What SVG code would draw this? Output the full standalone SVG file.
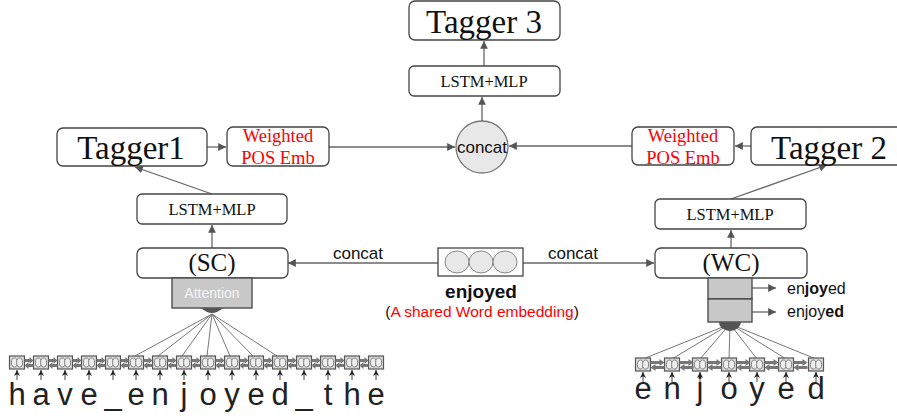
<svg xmlns="http://www.w3.org/2000/svg" xmlns:xlink="http://www.w3.org/1999/xlink" width="897" height="419" viewBox="0 0 897 419">
<style>
.box{fill:#fff;stroke:#444;stroke-width:1.3}
.ser{font-family:"Liberation Serif","Times New Roman",serif;fill:#111}
.sans{font-family:"Liberation Sans",Arial,sans-serif;fill:#111}
.red{fill:#f00}
.con{stroke:#666;stroke-width:1.3;fill:none}
.fan{stroke:#777;stroke-width:1;fill:none}
.gray{fill:#c8c8c8;stroke:#444;stroke-width:1.3}
.lt{fill:#222;font-family:"Liberation Sans",Arial,sans-serif;font-size:31px;text-anchor:middle}
.cellb{fill:#ddd;stroke:#555;stroke-width:1.2}
.cello{fill:#eee;stroke:#666;stroke-width:0.8}
.barr{fill:#777}
.up{stroke:#444;stroke-width:1;fill:none}
</style>
<defs>
<marker id="ah" viewBox="0 0 10 10" refX="10" refY="5" markerWidth="6" markerHeight="6" orient="auto"><path d="M0,0 L10,5 L0,10 z" fill="#555"/></marker>
<marker id="ahs" viewBox="0 0 10 10" refX="10" refY="5" markerWidth="6" markerHeight="7" orient="auto"><path d="M0,0 L10,5 L0,10 L3,5 z" fill="#222"/></marker>
<g id="cell">
<rect class="cellb" x="-7.5" y="0" width="15" height="13"/>
<ellipse class="cello" cx="-2.6" cy="6.5" rx="3" ry="4.5"/>
<ellipse class="cello" cx="2.6" cy="6.5" rx="3" ry="4.5"/>
</g>
<g id="bi">
<path class="barr" d="M0,2 L5,2 L5,0 L9,3.5 L5,7 L5,5 L0,5 z"/>
<path class="barr" d="M9,7 L4,7 L4,5 L0,8.5 L4,12 L4,10 L9,10 z"/>
</g>
<g id="biw">
<path class="barr" d="M0,2 L9,2 L9,0 L14,3.5 L9,7 L9,5 L0,5 z"/>
<path class="barr" d="M14,7 L5,7 L5,5 L0,8.5 L5,12 L5,10 L14,10 z"/>
</g>
</defs>

<g id="connectors">
<line class="con" x1="484" y1="66" x2="484" y2="41" marker-end="url(#ah)"/>
<line class="con" x1="482" y1="121" x2="482" y2="97" marker-end="url(#ah)"/>
<line class="con" x1="207" y1="147" x2="226" y2="147" marker-end="url(#ah)"/>
<line class="con" x1="329" y1="147" x2="455" y2="147" marker-end="url(#ah)"/>
<line class="con" x1="751" y1="146" x2="735" y2="146" marker-end="url(#ah)"/>
<line class="con" x1="632" y1="146" x2="509" y2="146" marker-end="url(#ah)"/>
<line class="con" x1="212" y1="194" x2="135" y2="167" marker-end="url(#ah)"/>
<line class="con" x1="731" y1="199" x2="827" y2="165" marker-end="url(#ah)"/>
<line class="con" x1="212" y1="248" x2="212" y2="225" marker-end="url(#ah)"/>
<line class="con" x1="731" y1="248" x2="731" y2="230" marker-end="url(#ah)"/>
<line class="con" x1="438" y1="263" x2="288" y2="263" marker-end="url(#ah)"/>
<line class="con" x1="523" y1="263" x2="654" y2="263" marker-end="url(#ah)"/>
<text class="sans" x="358" y="259" font-size="17" text-anchor="middle">concat</text>
<text class="sans" x="573" y="259" font-size="17" text-anchor="middle">concat</text>
<line class="con" x1="752" y1="288" x2="776" y2="288" marker-end="url(#ah)"/>
<line class="con" x1="752" y1="312" x2="776" y2="312" marker-end="url(#ah)"/>
<g class="fan">
<line x1="212" y1="314" x2="135" y2="356"/>
<line x1="212" y1="314" x2="158" y2="356"/>
<line x1="212" y1="314" x2="182" y2="356"/>
<line x1="212" y1="314" x2="207" y2="356"/>
<line x1="212" y1="314" x2="230" y2="356"/>
<line x1="212" y1="314" x2="253" y2="356"/>
<line x1="212" y1="314" x2="277" y2="356"/>
</g>
<g class="fan">
<line x1="730" y1="324" x2="643" y2="359"/>
<line x1="730" y1="324" x2="672" y2="359"/>
<line x1="730" y1="324" x2="700" y2="359"/>
<line x1="730" y1="324" x2="729" y2="359"/>
<line x1="730" y1="324" x2="757" y2="359"/>
<line x1="730" y1="324" x2="786" y2="359"/>
<line x1="730" y1="324" x2="816" y2="359"/>
</g>
</g>

<g id="tagger3">
<rect class="box" x="409" y="1" width="151" height="39" rx="6"/>
<text class="ser" x="484" y="33" font-size="33" text-anchor="middle">Tagger 3</text>
</g>
<g id="lstm3">
<rect class="box" x="409" y="66" width="151" height="30" rx="5"/>
<text class="ser" x="484" y="87" font-size="16.5" text-anchor="middle">LSTM+MLP</text>
</g>
<g id="concat">
<circle cx="482" cy="147" r="26" fill="#e8e8e8" stroke="#777" stroke-width="1.3"/>
<text class="sans" x="482" y="153" font-size="17" text-anchor="middle">concat</text>
</g>
<g id="tagger1">
<rect class="box" x="57" y="128" width="150" height="38" rx="6"/>
<text class="ser" x="131" y="159" font-size="33" text-anchor="middle">Tagger1</text>
</g>
<g id="wpos1">
<rect class="box" x="227" y="127" width="102" height="39" rx="6"/>
<text class="ser red" x="278" y="142" font-size="18.5" text-anchor="middle">Weighted</text>
<text class="ser red" x="278" y="164" font-size="18.5" text-anchor="middle">POS Emb</text>
</g>
<g id="wpos2">
<rect class="box" x="632" y="127" width="102" height="38" rx="6"/>
<text class="ser red" x="683" y="142" font-size="18.5" text-anchor="middle">Weighted</text>
<text class="ser red" x="683" y="164" font-size="18.5" text-anchor="middle">POS Emb</text>
</g>
<g id="tagger2">
<rect class="box" x="751" y="127" width="160" height="38" rx="6"/>
<text class="ser" x="829" y="159" font-size="33" text-anchor="middle">Tagger 2</text>
</g>
<g id="lstm1">
<rect class="box" x="137" y="194" width="150" height="30" rx="5"/>
<text class="ser" x="212" y="215" font-size="16.5" text-anchor="middle">LSTM+MLP</text>
</g>
<g id="lstm2">
<rect class="box" x="655" y="199" width="151" height="30" rx="5"/>
<text class="ser" x="730" y="220" font-size="16.5" text-anchor="middle">LSTM+MLP</text>
</g>
<g id="sc">
<rect class="box" x="137" y="248" width="151" height="30" rx="6"/>
<text class="ser" x="212" y="271" font-size="25" text-anchor="middle">(SC)</text>
</g>
<g id="attention">
<rect class="gray" x="172" y="278" width="80" height="30"/>
<text x="212" y="298" font-size="14" text-anchor="middle" fill="#f4f4f4" font-family="Liberation Sans, Arial, sans-serif">Attention</text>
<path d="M201,308 Q212,318 223,308 z" fill="#555"/>
</g>
<g id="wc">
<rect class="box" x="655" y="248" width="152" height="30" rx="6"/>
<text class="ser" x="731" y="271" font-size="25" text-anchor="middle">(WC)</text>
</g>
<g id="wc-outputs">
<rect class="gray" x="708" y="278" width="44" height="21"/>
<rect class="gray" x="708" y="299" width="44" height="23"/>
<path d="M719,322 A11,9 0 0 0 741,322 z" fill="#555"/>
<text class="sans" x="787" y="294" font-size="16">en<tspan font-weight="bold">joy</tspan>ed</text>
<text class="sans" x="787" y="317" font-size="16">enjoy<tspan font-weight="bold">ed</tspan></text>
</g>
<g id="embedding">
<rect x="438" y="248" width="85" height="28" fill="#fff" stroke="#444" stroke-width="1.3"/>
<ellipse cx="457" cy="262" rx="12" ry="11" fill="#e8e8e8" stroke="#888"/>
<ellipse cx="481" cy="262" rx="12" ry="11" fill="#e8e8e8" stroke="#888"/>
<ellipse cx="505" cy="262" rx="12" ry="11" fill="#e8e8e8" stroke="#888"/>
<text class="sans" x="481" y="298" font-size="19" font-weight="bold" text-anchor="middle">enjoyed</text>
<text class="sans" x="482" y="317" font-size="15.5" text-anchor="middle">(<tspan fill="#f00">A shared Word embedding</tspan>)</text>
</g>

<g id="char-lstm-left">
<use xlink:href="#cell" x="17" y="356"/>
<use xlink:href="#cell" x="41" y="356"/>
<use xlink:href="#cell" x="65" y="356"/>
<use xlink:href="#cell" x="89" y="356"/>
<use xlink:href="#cell" x="113" y="356"/>
<use xlink:href="#cell" x="136" y="356"/>
<use xlink:href="#cell" x="160" y="356"/>
<use xlink:href="#cell" x="184" y="356"/>
<use xlink:href="#cell" x="208" y="356"/>
<use xlink:href="#cell" x="232" y="356"/>
<use xlink:href="#cell" x="256" y="356"/>
<use xlink:href="#cell" x="280" y="356"/>
<use xlink:href="#cell" x="304" y="356"/>
<use xlink:href="#cell" x="328" y="356"/>
<use xlink:href="#cell" x="352" y="356"/>
<use xlink:href="#cell" x="376" y="356"/>
<use xlink:href="#bi" x="24.5" y="357"/>
<use xlink:href="#bi" x="48.5" y="357"/>
<use xlink:href="#bi" x="72.5" y="357"/>
<use xlink:href="#bi" x="96.5" y="357"/>
<use xlink:href="#bi" x="120.5" y="357"/>
<use xlink:href="#bi" x="143.5" y="357"/>
<use xlink:href="#bi" x="167.5" y="357"/>
<use xlink:href="#bi" x="191.5" y="357"/>
<use xlink:href="#bi" x="215.5" y="357"/>
<use xlink:href="#bi" x="239.5" y="357"/>
<use xlink:href="#bi" x="263.5" y="357"/>
<use xlink:href="#bi" x="287.5" y="357"/>
<use xlink:href="#bi" x="311.5" y="357"/>
<use xlink:href="#bi" x="335.5" y="357"/>
<use xlink:href="#bi" x="359.5" y="357"/>
<g class="up">
<line x1="17" y1="380" x2="17" y2="370" marker-end="url(#ahs)"/>
<line x1="41" y1="380" x2="41" y2="370" marker-end="url(#ahs)"/>
<line x1="65" y1="380" x2="65" y2="370" marker-end="url(#ahs)"/>
<line x1="89" y1="380" x2="89" y2="370" marker-end="url(#ahs)"/>
<line x1="113" y1="380" x2="113" y2="370" marker-end="url(#ahs)"/>
<line x1="136" y1="380" x2="136" y2="370" marker-end="url(#ahs)"/>
<line x1="160" y1="380" x2="160" y2="370" marker-end="url(#ahs)"/>
<line x1="184" y1="380" x2="184" y2="370" marker-end="url(#ahs)"/>
<line x1="208" y1="380" x2="208" y2="370" marker-end="url(#ahs)"/>
<line x1="232" y1="380" x2="232" y2="370" marker-end="url(#ahs)"/>
<line x1="256" y1="380" x2="256" y2="370" marker-end="url(#ahs)"/>
<line x1="280" y1="380" x2="280" y2="370" marker-end="url(#ahs)"/>
<line x1="304" y1="380" x2="304" y2="370" marker-end="url(#ahs)"/>
<line x1="328" y1="380" x2="328" y2="370" marker-end="url(#ahs)"/>
<line x1="352" y1="380" x2="352" y2="370" marker-end="url(#ahs)"/>
<line x1="376" y1="380" x2="376" y2="370" marker-end="url(#ahs)"/>
</g>
<text class="lt" x="17" y="405">h</text>
<text class="lt" x="41" y="405">a</text>
<text class="lt" x="65" y="405">v</text>
<text class="lt" x="89" y="405">e</text>
<text class="lt" x="113" y="405">_</text>
<text class="lt" x="136" y="405">e</text>
<text class="lt" x="160" y="405">n</text>
<text class="lt" x="184" y="405">j</text>
<text class="lt" x="208" y="405">o</text>
<text class="lt" x="232" y="405">y</text>
<text class="lt" x="256" y="405">e</text>
<text class="lt" x="280" y="405">d</text>
<text class="lt" x="304" y="405">_</text>
<text class="lt" x="328" y="405">t</text>
<text class="lt" x="352" y="405">h</text>
<text class="lt" x="376" y="405">e</text>
</g>

<g id="char-lstm-right">
<use xlink:href="#cell" x="643" y="358"/>
<use xlink:href="#cell" x="672" y="358"/>
<use xlink:href="#cell" x="700" y="358"/>
<use xlink:href="#cell" x="729" y="358"/>
<use xlink:href="#cell" x="757" y="358"/>
<use xlink:href="#cell" x="786" y="358"/>
<use xlink:href="#cell" x="816" y="358"/>
<use xlink:href="#biw" x="650.5" y="359"/>
<use xlink:href="#biw" x="679.5" y="359"/>
<use xlink:href="#biw" x="707.5" y="359"/>
<use xlink:href="#biw" x="736.5" y="359"/>
<use xlink:href="#biw" x="764.5" y="359"/>
<use xlink:href="#biw" x="793.5" y="359"/>
<g class="up">
<line x1="643" y1="382" x2="643" y2="372" marker-end="url(#ahs)"/>
<line x1="672" y1="382" x2="672" y2="372" marker-end="url(#ahs)"/>
<line x1="700" y1="382" x2="700" y2="372" marker-end="url(#ahs)"/>
<line x1="729" y1="382" x2="729" y2="372" marker-end="url(#ahs)"/>
<line x1="757" y1="382" x2="757" y2="372" marker-end="url(#ahs)"/>
<line x1="786" y1="382" x2="786" y2="372" marker-end="url(#ahs)"/>
<line x1="816" y1="382" x2="816" y2="372" marker-end="url(#ahs)"/>
</g>
<text class="lt" x="643" y="399" font-size="32">e</text>
<text class="lt" x="672" y="399" font-size="32">n</text>
<text class="lt" x="700" y="399" font-size="32">j</text>
<text class="lt" x="729" y="399" font-size="32">o</text>
<text class="lt" x="757" y="399" font-size="32">y</text>
<text class="lt" x="786" y="399" font-size="32">e</text>
<text class="lt" x="816" y="399" font-size="32">d</text>
</g>
</svg>
